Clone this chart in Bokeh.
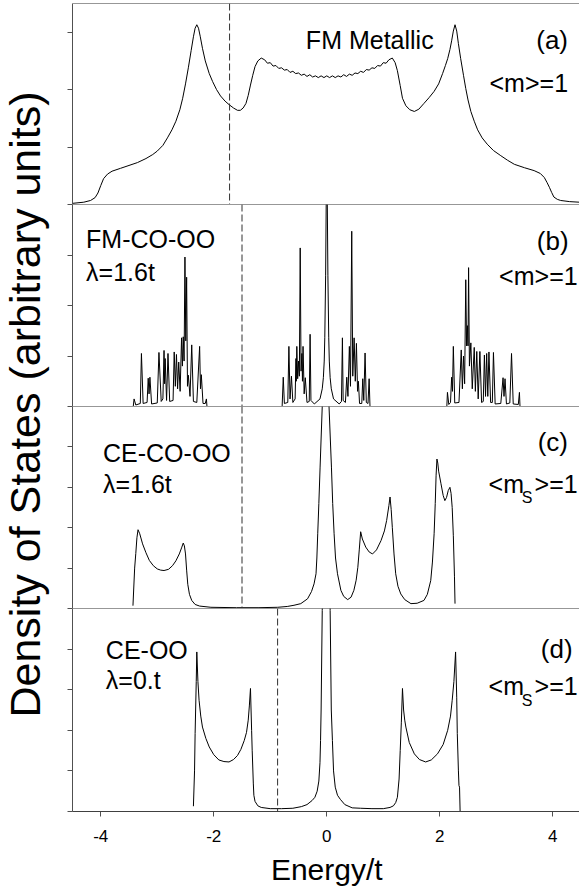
import math
from bokeh.plotting import figure
from bokeh.layouts import row, column
from bokeh.models import Range1d, FixedTicker, Label, Span
from bokeh.embed import file_html
from bokeh.resources import INLINE

# ---------------- data ----------------
x_tick_values = [-4, -2, 0, 2, 4]
x_tick_labels = ["-4", "-2", "0", "2", "4"]

fermi_levels = [-1.72, -1.50, -1.50, -0.87]

# (a) FM metallic
a_energy = [-4.50, -4.30, -4.18, -4.10, -4.05, -4.00, -3.95, -3.88, -3.80, -3.65, -3.50, -3.35, -3.20, -3.08, -3.00,
            -2.90, -2.82, -2.74, -2.67, -2.60, -2.55, -2.50, -2.45, -2.40, -2.36, -2.33, -2.30, -2.27, -2.24, -2.20,
            -2.15, -2.08, -2.02, -1.95, -1.88, -1.80, -1.73, -1.65, -1.58, -1.53, -1.48, -1.43, -1.39, -1.35, -1.31,
            -1.27, -1.22, -1.16,
            -1.10, -1.05, -1.00, -0.95, -0.90, -0.85, -0.80, -0.75, -0.70, -0.65, -0.60, -0.55, -0.50, -0.45, -0.40,
            -0.35, -0.30, -0.25, -0.20, -0.15, -0.10, -0.05, 0.00, 0.05, 0.10, 0.15, 0.20, 0.25, 0.30, 0.35, 0.40,
            0.45, 0.50, 0.55, 0.60, 0.65, 0.70, 0.75, 0.80, 0.85, 0.90, 0.95, 1.00, 1.05, 1.10,
            1.16, 1.21, 1.25, 1.30, 1.34, 1.40, 1.47, 1.55, 1.63, 1.72, 1.81, 1.90, 1.98, 2.05, 2.10, 2.14, 2.18,
            2.21, 2.24, 2.27, 2.30, 2.33, 2.37, 2.42, 2.46, 2.50, 2.55, 2.61, 2.67, 2.75, 2.84, 2.95, 3.08, 3.20,
            3.32, 3.50, 3.67, 3.78, 3.85, 3.90, 3.94, 3.98, 4.02, 4.08, 4.14, 4.30, 4.47]
a_dos = [0.02, 0.04, 0.07, 0.12, 0.20, 0.33, 0.45, 0.53, 0.58, 0.63, 0.68, 0.73, 0.80, 0.87, 0.93,
         1.03, 1.16, 1.30, 1.45, 1.65, 1.85, 2.10, 2.38, 2.68, 2.92, 3.07, 3.13, 3.07, 2.93, 2.72,
         2.50, 2.28, 2.14, 2.00, 1.89, 1.80, 1.74, 1.68, 1.64, 1.64, 1.68, 1.76, 1.90, 2.08, 2.25,
         2.40, 2.50, 2.55,
         2.52, 2.46, 2.47, 2.41, 2.42, 2.37, 2.38, 2.34, 2.35, 2.30, 2.32, 2.28, 2.29, 2.25, 2.27,
         2.23, 2.26, 2.22, 2.24, 2.21, 2.24, 2.21, 2.24, 2.21, 2.24, 2.21, 2.24, 2.22, 2.26, 2.23, 2.27,
         2.25, 2.29, 2.28, 2.32, 2.30, 2.35, 2.34, 2.38, 2.37, 2.42, 2.41, 2.47, 2.46, 2.52,
         2.55, 2.47, 2.33, 2.07, 1.85, 1.72, 1.65, 1.62, 1.66, 1.76, 1.86, 1.97, 2.10, 2.28, 2.42, 2.54, 2.70,
         2.85, 3.02, 3.13, 3.02, 2.80, 2.54, 2.25, 2.02, 1.82, 1.62, 1.45, 1.30, 1.16, 1.05, 0.94, 0.85, 0.77,
         0.70, 0.64, 0.59, 0.54, 0.47, 0.38, 0.30, 0.21, 0.13, 0.09, 0.07, 0.05, 0.04]

# (b) FM-CO-OO, lambda = 1.6t
b_energy = [-3.425, -3.41, -3.38, -3.30, -3.28, -3.25, -3.18, -3.16, -3.145, -3.13, -3.10, -3.00, -2.97, -2.93,
            -2.90, -2.88, -2.87, -2.86, -2.835, -2.81, -2.78, -2.72, -2.70, -2.68, -2.66, -2.64, -2.62, -2.595,
            -2.57, -2.555, -2.54, -2.525, -2.51, -2.495, -2.48, -2.465, -2.45, -2.42, -2.39, -2.36, -2.30, -2.25,
            -2.235, -2.22, -2.19, -2.15, -2.13, -2.12,
            -0.79, -0.77, -0.75, -0.69, -0.67, -0.65, -0.625, -0.60, -0.56, -0.545, -0.54, -0.53, -0.515, -0.50,
            -0.485, -0.47, -0.455, -0.44, -0.43, -0.42, -0.40, -0.38, -0.35, -0.31, -0.295, -0.28, -0.22, -0.12,
            -0.08, -0.06, -0.045, -0.035, -0.02, -0.01, 0.00, 0.01, 0.02, 0.035, 0.045, 0.06, 0.08, 0.12, 0.22,
            0.26, 0.277, 0.29, 0.33, 0.354, 0.375, 0.40, 0.42, 0.442, 0.46, 0.484, 0.505, 0.525, 0.545, 0.56,
            0.58, 0.62, 0.637, 0.655, 0.678, 0.70, 0.73, 0.75, 0.765,
            2.125, 2.136, 2.16, 2.19, 2.21, 2.225, 2.24, 2.265, 2.34, 2.38, 2.40, 2.42, 2.44, 2.46, 2.475, 2.49,
            2.50, 2.51, 2.525, 2.55, 2.575, 2.61, 2.63, 2.655, 2.68, 2.71, 2.74, 2.77, 2.79, 2.81, 2.83, 2.85,
            2.87, 2.90, 2.93, 2.95, 2.98, 3.08, 3.12, 3.137, 3.155, 3.18, 3.24, 3.27, 3.30, 3.39, 3.41, 3.42]
b_dos = [0.0, 0.15, 0.03, 0.06, 1.05, 0.06, 0.08, 0.56, 0.25, 0.58, 0.05, 0.07, 1.07, 0.10,
         0.15, 1.11, 0.45, 0.95, 0.12, 1.05, 0.10, 0.12, 1.08, 0.40, 1.03, 0.35, 0.88, 0.30,
         1.36, 0.80, 1.38, 0.90, 2.96, 1.30, 2.56, 0.40, 0.62, 0.20, 1.22, 0.10, 0.08, 1.19,
         0.35, 0.63, 0.06, 0.06, 0.15, 0.0,
         0.0, 0.58, 0.06, 0.08, 1.19, 0.15, 0.60, 0.08, 0.15, 0.95, 0.50, 1.19, 0.55, 0.90,
         0.60, 3.14, 0.70, 1.05, 0.50, 1.19, 0.25, 0.57, 0.08, 0.10, 1.43, 0.12, 0.05, 0.15,
         0.35, 0.57, 0.90, 1.36, 2.60, 4.00, 5.00, 4.00, 2.60, 1.36, 0.90, 0.57, 0.35, 0.15, 0.05,
         0.10, 1.36, 0.12, 0.08, 0.58, 0.20, 1.19, 0.40, 3.47, 0.60, 1.36, 0.50, 1.25, 0.30, 0.50,
         0.06, 0.06, 0.55, 0.12, 1.06, 0.08, 0.06, 0.55, 0.0,
         0.0, 0.28, 0.04, 0.08, 0.58, 0.30, 1.19, 0.07, 0.08, 1.12, 0.35, 1.00, 0.45, 2.51, 1.20, 1.60,
         1.20, 2.75, 0.80, 1.26, 0.35, 1.17, 0.30, 1.09, 0.15, 1.09, 0.08, 0.10, 1.02, 0.20, 1.05, 0.20,
         1.08, 0.08, 0.08, 1.07, 0.05, 0.06, 0.57, 0.20, 0.55, 0.05, 0.07, 1.05, 0.05, 0.04, 0.28, 0.0]

# (c) CE-CO-OO, lambda = 1.6t
c_energy = [-3.43, -3.40, -3.38, -3.36, -3.34, -3.31, -3.26, -3.20, -3.14, -3.07, -3.00, -2.94, -2.88, -2.80,
            -2.73, -2.67, -2.61, -2.57, -2.54, -2.52, -2.50, -2.48, -2.46, -2.43, -2.39, -2.33, -2.25, -2.05,
            -1.60, -1.20, -0.87, -0.70, -0.58, -0.46, -0.34, -0.27, -0.225, -0.19, -0.175, -0.16, -0.14, -0.118,
            -0.08, -0.05, -0.02, 0.01, 0.04, 0.083, 0.105, 0.13, 0.155, 0.19, 0.25, 0.30, 0.37, 0.43, 0.48,
            0.52, 0.55, 0.575, 0.60, 0.63, 0.69, 0.75, 0.81, 0.88, 0.96, 1.02, 1.06, 1.10, 1.12, 1.14, 1.16,
            1.19, 1.22, 1.26, 1.31, 1.38, 1.49, 1.60, 1.72, 1.78, 1.84, 1.87, 1.90, 1.92, 1.935, 1.95, 1.965,
            1.98, 2.02, 2.06, 2.09, 2.12, 2.15, 2.18, 2.20, 2.22, 2.24, 2.26, 2.27]
c_dos = [0.07, 1.00, 1.36, 1.75, 1.95, 1.85, 1.60, 1.38, 1.19, 1.06, 0.98, 0.95, 0.94, 0.97,
         1.06, 1.18, 1.35, 1.50, 1.62, 1.55, 1.35, 0.95, 0.60, 0.35, 0.20, 0.10, 0.06, 0.03,
         0.02, 0.02, 0.03, 0.05, 0.08, 0.12, 0.24, 0.42, 0.61, 0.86, 1.25, 1.85, 2.60, 3.50,
         5.00, 7.00, 8.50, 7.00, 5.00, 3.50, 2.60, 1.85, 1.25, 0.86, 0.45, 0.30, 0.22, 0.28, 0.45,
         0.70, 1.02, 1.45, 1.90, 1.72, 1.52, 1.40, 1.35, 1.45, 1.68, 1.92, 2.18, 2.55, 2.76, 2.45, 2.01,
         1.35, 0.86, 0.55, 0.36, 0.22, 0.12, 0.13, 0.20, 0.35, 0.69, 1.15, 1.85, 2.60, 3.30, 3.70, 3.60,
         3.40, 3.10, 2.80, 2.67, 2.75, 2.92, 3.00, 2.85, 2.50, 1.80, 0.80, 0.12]

# (d) CE-OO, lambda = 0
d_energy = [-2.36, -2.34, -2.33, -2.31, -2.30, -2.28, -2.26, -2.23, -2.20, -2.14, -2.08, -2.00, -1.91, -1.82,
            -1.73, -1.65, -1.58, -1.52, -1.46, -1.42, -1.39, -1.37, -1.35, -1.33, -1.32, -1.30, -1.29, -1.27,
            -1.22, -1.16, -1.00, -0.80, -0.60, -0.45, -0.35, -0.26, -0.21, -0.17, -0.14, -0.12, -0.11, -0.10,
            -0.08, -0.05, -0.01, 0.03, 0.06, 0.08, 0.10, 0.12, 0.15, 0.19, 0.24, 0.32, 0.45, 0.60, 0.80, 1.00,
            1.12, 1.18, 1.22, 1.25, 1.28, 1.30, 1.32, 1.34, 1.36, 1.38, 1.40, 1.46, 1.55, 1.64, 1.75, 1.85,
            1.96, 2.06, 2.14, 2.19, 2.22, 2.25, 2.28, 2.30, 2.31, 2.33, 2.34, 2.35, 2.36]
d_dos = [0.13, 1.00, 1.92, 3.20, 3.93, 3.20, 2.74, 2.35, 2.08, 1.80, 1.59, 1.40, 1.27, 1.23,
         1.22, 1.28, 1.38, 1.53, 1.75, 1.95, 2.25, 2.60, 3.03, 2.00, 1.51, 0.70, 0.40, 0.25,
         0.14, 0.10, 0.07, 0.07, 0.08, 0.12, 0.17, 0.27, 0.35, 0.50, 0.75, 1.20, 1.75, 2.50,
         4.95, 8.00, 10.0, 8.00, 4.95, 2.50, 1.75, 1.00, 0.60, 0.40, 0.30, 0.17, 0.09, 0.08, 0.07, 0.07,
         0.10, 0.14, 0.22, 0.35, 0.80, 1.50, 2.20, 3.03, 2.50, 2.25, 2.08, 1.70, 1.42, 1.28, 1.22, 1.27,
         1.42, 1.65, 2.00, 2.35, 2.74, 3.20, 3.93, 2.80, 1.92, 1.00, 0.64, 0.60, 0.0]

# ---------------- styling ----------------
FONT = "Liberation Sans"
AXIS_COLOR = "#505050"
BORDER_COLOR = "#303030"
X_RANGE = Range1d(-4.5, 4.473)
PANEL_W = 529
LEFT = 22


def make_panel(height, ymax, yticks, top=0, bottom=0, with_xaxis=False):
    p = figure(width=PANEL_W, height=height, x_range=X_RANGE, y_range=Range1d(0, ymax),
               output_backend="svg", toolbar_location=None,
               x_axis_location="below" if with_xaxis else None,
               min_border_left=LEFT, min_border_right=0, min_border_top=top, min_border_bottom=bottom)
    p.grid.visible = False
    p.outline_line_color = None
    p.background_fill_color = "white"
    p.border_fill_color = "white"
    ya = p.yaxis[0]
    ya.ticker = FixedTicker(ticks=yticks)
    ya.major_label_text_color = None
    ya.major_label_text_font_size = "8px"
    ya.major_label_standoff = 0
    ya.major_tick_out = 5
    ya.major_tick_in = 0
    ya.minor_tick_line_color = None
    ya.axis_line_color = AXIS_COLOR
    ya.major_tick_line_color = AXIS_COLOR
    # panel separators (top and bottom edges of the frame)
    for loc in (0, ymax):
        p.add_layout(Span(location=loc, dimension="width", line_color=BORDER_COLOR, line_width=1))
    return p


def add_text(p, x, y, text, size, align="left", baseline="alphabetic"):
    p.add_layout(Label(x=x, y=y, text=text, text_font=FONT, text_font_size=size,
                       text_align=align, text_baseline=baseline, text_color="black"))


pa = make_panel(204, 3.5, [0, 1, 2, 3], top=3)
pb = make_panel(202, 4.0, [0, 1, 2, 3, 4])
pc = make_panel(202, 5.0, [0, 1, 2, 3, 4, 5])
pd = make_panel(245, 5.0, [0, 1, 2, 3, 4, 5], bottom=42, with_xaxis=True)

xa = pd.xaxis[0]
xa.ticker = FixedTicker(ticks=x_tick_values)
xa.major_label_overrides = {v: s for v, s in zip(x_tick_values, x_tick_labels)}
xa.major_label_text_font = FONT
xa.major_label_text_font_size = "17px"
xa.major_label_text_color = "black"
xa.major_label_standoff = 13
xa.major_tick_out = 5
xa.major_tick_in = 0
xa.minor_tick_line_color = None
xa.axis_line_color = AXIS_COLOR
xa.major_tick_line_color = AXIS_COLOR

panels = [pa, pb, pc, pd]
series = [(a_energy, a_dos), (b_energy, b_dos), (c_energy, c_dos), (d_energy, d_dos)]
for p, (xs, ys), ef in zip(panels, series, fermi_levels):
    p.line(xs, ys, line_color="black", line_width=1)
    p.add_layout(Span(location=ef, dimension="height", line_color=BORDER_COLOR,
                      line_width=1, line_dash="7 3"))

NAME = "25px"
TAG = "26px"
MAG = "25px"
SUB = "16px"

# panel texts
add_text(pa, -0.37, 2.87, "FM Metallic", NAME)
add_text(pa, 4.27, 2.86, "(a)", TAG, "right")
add_text(pa, 4.27, 2.11, "<m>=1", MAG, "right")

add_text(pb, -4.26, 3.31, "FM-CO-OO", NAME)
add_text(pb, -4.26, 2.67, "λ=1.6t", NAME)
add_text(pb, 4.28, 3.27, "(b)", TAG, "right")
add_text(pb, 4.44, 2.59, "<m>=1", MAG, "right")

add_text(pc, -3.96, 3.86, "CE-CO-OO", NAME)
add_text(pc, -3.96, 3.09, "λ=1.6t", NAME)
add_text(pc, 4.27, 4.11, "(c)", TAG, "right")
add_text(pc, 3.49, 3.09, "<m", MAG, "right")
add_text(pc, 3.64, 2.75, "S", SUB, "right")
add_text(pc, 4.44, 3.09, ">=1", MAG, "right")

add_text(pd, -3.91, 3.97, "CE-OO", NAME)
add_text(pd, -3.91, 3.23, "λ=0.t", NAME)
add_text(pd, 4.35, 4.01, "(d)", TAG, "right")
add_text(pd, 3.49, 3.10, "<m", MAG, "right")
add_text(pd, 3.64, 2.73, "S", SUB, "right")
add_text(pd, 4.44, 3.10, ">=1", MAG, "right")

# x-axis title strip below panel (d)
pt = figure(width=PANEL_W, height=33, x_range=X_RANGE, y_range=Range1d(0, 33),
            output_backend="svg", toolbar_location=None,
            x_axis_location=None, y_axis_location=None,
            min_border_left=LEFT, min_border_right=0, min_border_top=0, min_border_bottom=0)
pt.grid.visible = False
pt.outline_line_color = None
add_text(pt, 0.0, 17, "Energy/t", "30px", "center", "middle")

# y-axis title figure
pl = figure(width=50, height=886, x_range=Range1d(0, 50), y_range=Range1d(0, 886),
            output_backend="svg", toolbar_location=None,
            x_axis_location=None, y_axis_location=None, min_border=0)
pl.grid.visible = False
pl.outline_line_color = None
pl.add_layout(Label(x=24, y=482, text="Density of States (arbitrary units)", angle=math.pi / 2,
                    text_font=FONT, text_font_size="43px", text_align="center",
                    text_baseline="middle", text_color="black"))

layout = row(pl, column(pa, pb, pc, pd, pt, spacing=0), spacing=0)
open("out.html", "w").write(file_html(layout, INLINE))
